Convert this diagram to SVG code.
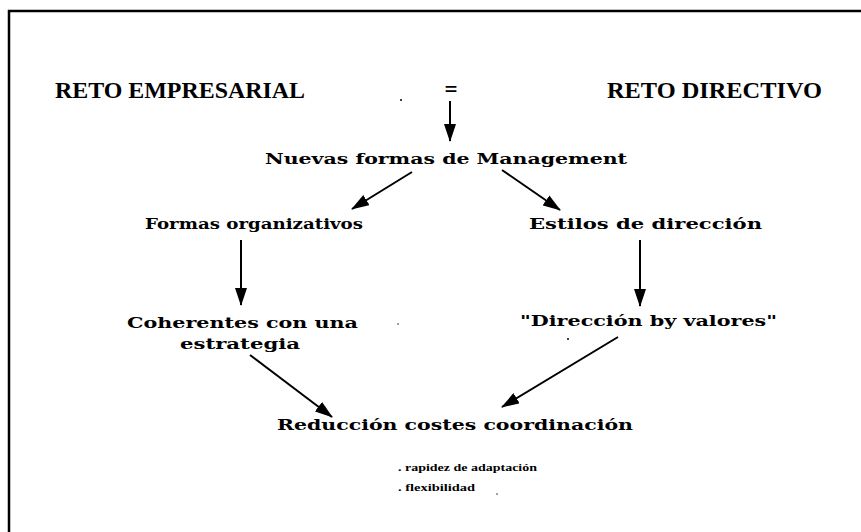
<svg xmlns="http://www.w3.org/2000/svg" width="861" height="532" viewBox="0 0 861 532">
  <style>
    .title { font-family: "Liberation Serif", "Times New Roman", serif; font-weight: bold; font-size: 23px; fill: #000; }
    .label { font-family: "DejaVu Serif", "Liberation Serif", serif; font-weight: bold; font-size: 14px; fill: #000; }
    .small { font-family: "Liberation Serif", serif; font-weight: bold; font-size: 11px; fill: #000; }
    .edge { stroke: #000; stroke-width: 2; fill: none; marker-end: url(#head); }
    .frame { stroke: #000; stroke-width: 2.5; fill: none; }
  </style>
  <defs>
    <marker id="head" viewBox="0 0 18 12" refX="17" refY="6" markerWidth="18" markerHeight="12" markerUnits="userSpaceOnUse" orient="auto">
      <path d="M0,0 L18,6 L0,12 Z" fill="#000"/>
    </marker>
  </defs>
  <rect width="861" height="532" fill="#fff"/>

  <!-- page frame: top and left rules only -->
  <path class="frame" d="M9,532 L9,11 L861,11"/>

  <g id="reto-empresarial"><text class="title" x="55" y="98" textLength="250" lengthAdjust="spacingAndGlyphs">RETO EMPRESARIAL</text></g>
  <g id="igual"><text class="title" x="451" y="97" text-anchor="middle" font-size="20">=</text></g>
  <g id="reto-directivo"><text class="title" x="607" y="98" textLength="215" lengthAdjust="spacingAndGlyphs">RETO DIRECTIVO</text></g>

  <g id="nuevas-formas"><text class="label" x="265" y="164" textLength="362" lengthAdjust="spacingAndGlyphs">Nuevas formas de Management</text></g>
  <g id="formas-organizativos"><text class="label" x="145" y="229" textLength="218" lengthAdjust="spacingAndGlyphs">Formas organizativos</text></g>
  <g id="estilos-direccion"><text class="label" x="529" y="229" textLength="233" lengthAdjust="spacingAndGlyphs">Estilos de dirección</text></g>
  <g id="coherentes">
    <text class="label" x="127" y="328" textLength="231" lengthAdjust="spacingAndGlyphs">Coherentes con una</text>
    <text class="label" x="180" y="349" textLength="120" lengthAdjust="spacingAndGlyphs">estrategia</text>
  </g>
  <g id="direccion-valores"><text class="label" x="520" y="326" textLength="257" lengthAdjust="spacingAndGlyphs">"Dirección by valores"</text></g>
  <g id="reduccion-costes"><text class="label" x="277" y="430" textLength="356" lengthAdjust="spacingAndGlyphs">Reducción costes coordinación</text></g>
  <g id="notas">
    <text class="small" x="398" y="471" textLength="139" lengthAdjust="spacingAndGlyphs">. rapidez de adaptación</text>
    <text class="small" x="398" y="491" textLength="77" lengthAdjust="spacingAndGlyphs">. flexibilidad</text>
  </g>

  <g id="connectors">
    <line class="edge" x1="450" y1="101" x2="450" y2="141"/>
    <line class="edge" x1="412" y1="172" x2="352" y2="209"/>
    <line class="edge" x1="502" y1="170" x2="560" y2="210"/>
    <line class="edge" x1="241" y1="240" x2="241" y2="305"/>
    <line class="edge" x1="640" y1="240" x2="640" y2="306"/>
    <line class="edge" x1="250" y1="355" x2="332" y2="417"/>
    <line class="edge" x1="618" y1="337" x2="502" y2="407"/>
  </g>

  <!-- specks -->
  <g fill="#000">
    <circle cx="401" cy="100" r="1"/>
    <circle cx="398" cy="324" r="0.7"/>
    <circle cx="568" cy="339" r="1"/>
    <circle cx="497" cy="494" r="0.7"/>
  </g>
</svg>
